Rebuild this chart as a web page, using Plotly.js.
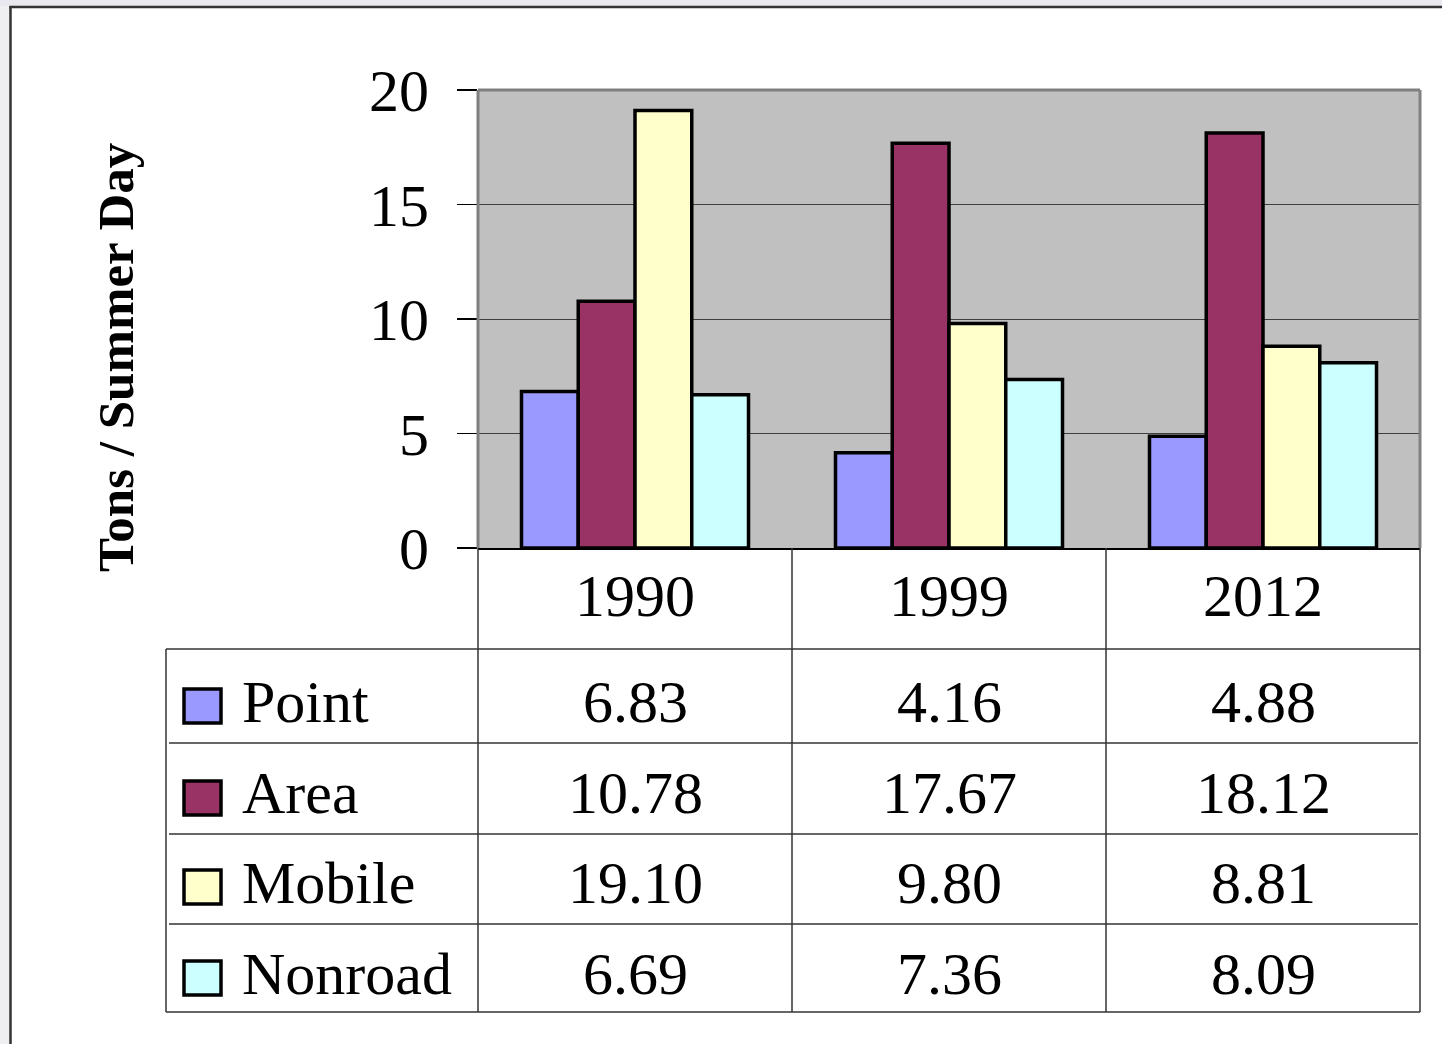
<!DOCTYPE html>
<html><head><meta charset="utf-8">
<script src="https://cdn.plot.ly/plotly-3.0.1.min.js"></script>
<style>html,body{margin:0;padding:0;background:#fff;overflow:hidden}</style>
</head><body><div id="chart" style="width:1442px;height:1044px"></div>
<script>
// ---- data ----
const years = ['1990', '1999', '2012'];
const seriesNames = ['Point', 'Area', 'Mobile', 'Nonroad'];
const pointValues = [6.83, 4.16, 4.88];
const areaValues = [10.78, 17.67, 18.12];
const mobileValues = [19.10, 9.80, 8.81];
const nonroadValues = [6.69, 7.36, 8.09];
const seriesColors = ['#9999FF', '#993366', '#FFFFCC', '#CCFFFF'];
const yTickValues = [0, 5, 10, 15, 20];
const yAxisTitle = 'Tons / Summer Day';
const seriesValues = [pointValues, areaValues, mobileValues, nonroadValues];

// ---- layout helpers ----
const W = 1442, H = 1044;
const px = v => v / W;
const py = v => 1 - v / H;
const xDom = [px(478), px(1420)];
const yDom = [py(548), py(90)];
const FONT = 'Liberation Serif, Times New Roman, serif';
const TXT = 60;

const traces = seriesNames.map((n, i) => ({
  type: 'bar', name: n, x: years, y: seriesValues[i],
  marker: {color: seriesColors[i], line: {color: '#000', width: 3.5}},
  hoverinfo: 'skip'
}));

const rowLines = [649, 743, 834, 924, 1012];
const textCenters = [702, 793, 883, 974];
const squareCenters = [706, 798, 887, 978];

const annotations = [];
years.forEach((y, j) => annotations.push({
  x: j, xref: 'x', y: py(596), yref: 'paper', text: y, showarrow: false,
  xanchor: 'center', yanchor: 'middle', font: {family: FONT, size: TXT, color: '#000'}
}));
seriesNames.forEach((n, i) => {
  annotations.push({
    x: px(240), xref: 'paper', y: py(textCenters[i]), yref: 'paper', text: n, showarrow: false,
    xanchor: 'left', yanchor: 'middle', font: {family: FONT, size: TXT, color: '#000'}
  });
  years.forEach((y, j) => annotations.push({
    x: j, xref: 'x', y: py(textCenters[i]), yref: 'paper', text: seriesValues[i][j].toFixed(2),
    showarrow: false, xanchor: 'center', yanchor: 'middle',
    font: {family: FONT, size: TXT, color: '#000'}
  }));
});
annotations.push({
  x: px(116), xref: 'paper', y: py(358), yref: 'paper', text: yAxisTitle, textangle: -90,
  showarrow: false, xanchor: 'center', yanchor: 'middle',
  font: {family: FONT, size: 51, color: '#000', weight: 'bold'}
});

const shapes = [];
// outer page background
shapes.push({type: 'rect', xref: 'paper', yref: 'paper', x0: 0, x1: px(10), y0: -0.01, y1: 1.01, fillcolor: '#EFEFF1', line: {width: 0}, layer: 'below'});
shapes.push({type: 'rect', xref: 'paper', yref: 'paper', x0: 0, x1: 1.01, y0: py(6), y1: 1.01, fillcolor: '#E8E8EE', line: {width: 0}, layer: 'below'});
shapes.push({type: 'line', xref: 'paper', yref: 'paper', x0: px(10.5), x1: px(10.5), y0: -0.01, y1: py(6), line: {color: '#333', width: 2.5}});
shapes.push({type: 'line', xref: 'paper', yref: 'paper', x0: px(9.5), x1: 1.01, y0: py(7), y1: py(7), line: {color: '#333', width: 2.5}});
// plot frame (top, left, right)
const frameColor = '#808080';
shapes.push({type: 'line', xref: 'paper', yref: 'paper', x0: xDom[0], x1: xDom[1], y0: yDom[1], y1: yDom[1], line: {color: frameColor, width: 3}});
shapes.push({type: 'line', xref: 'paper', yref: 'paper', x0: xDom[0], x1: xDom[0], y0: yDom[0], y1: yDom[1], line: {color: frameColor, width: 3}});
shapes.push({type: 'line', xref: 'paper', yref: 'paper', x0: xDom[1], x1: xDom[1], y0: yDom[0], y1: yDom[1], line: {color: frameColor, width: 3}});
// table lines
const tblColor = '#333';
rowLines.forEach((r, k) => {
  const inner = (k > 0 && k < rowLines.length - 1);
  shapes.push({type: 'line', xref: 'paper', yref: 'paper',
    x0: px(inner ? 169 : 166), x1: px(inner ? 1418 : 1420), y0: py(r), y1: py(r),
    line: {color: tblColor, width: 1.5}});
});
shapes.push({type: 'line', xref: 'paper', yref: 'paper', x0: px(166), x1: px(166), y0: py(649), y1: py(1012), line: {color: tblColor, width: 1.5}});
for (let k = 0; k <= years.length; k++) {
  const xx = xDom[0] + (xDom[1] - xDom[0]) * k / years.length;
  shapes.push({type: 'line', xref: 'paper', yref: 'paper', x0: xx, x1: xx, y0: yDom[0], y1: py(1012), line: {color: tblColor, width: 1.5}});
}
// legend squares
seriesColors.forEach((c, i) => shapes.push({
  type: 'rect', xref: 'paper', yref: 'paper', x0: px(184), x1: px(221),
  y0: py(squareCenters[i] + 17), y1: py(squareCenters[i] - 17),
  fillcolor: c, line: {color: '#000', width: 3.5}
}));

const layout = {
  width: W, height: H,
  margin: {l: 0, r: 0, t: 0, b: 0, pad: 0},
  paper_bgcolor: '#FFFFFF', plot_bgcolor: '#C0C0C0',
  showlegend: false,
  bargap: 0.277, bargroupgap: 0, barmode: 'group',
  font: {family: FONT, color: '#000'},
  xaxis: {type: 'category', domain: xDom, range: [-0.5, 2.5], autorange: false,
    showticklabels: false, ticks: '', showgrid: false,
    showline: true, linecolor: '#000', linewidth: 2, zeroline: false, fixedrange: true},
  yaxis: {domain: yDom, range: [0, 20], autorange: false, tickvals: yTickValues, ticks: 'outside', ticklen: 20,
    tickwidth: 1.5, tickcolor: '#000', showgrid: true, gridcolor: '#404040', gridwidth: 1,
    zeroline: false, showline: false, ticklabelstandoff: 16,
    tickfont: {family: FONT, size: 60, color: '#000'}, fixedrange: true},
  annotations: annotations,
  shapes: shapes
};

Plotly.newPlot('chart', traces, layout, {displayModeBar: false, staticPlot: true});
</script>
</body></html>
